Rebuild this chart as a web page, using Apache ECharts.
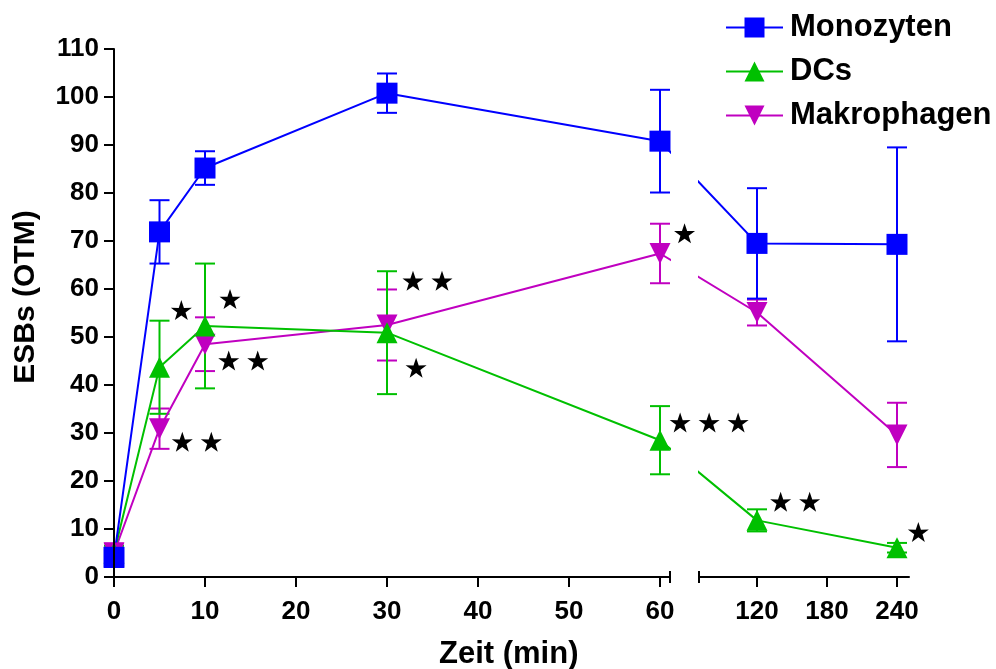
<!DOCTYPE html>
<html>
<head>
<meta charset="utf-8">
<title>ESBs</title>
<script src="https://cdn.jsdelivr.net/npm/echarts@6/dist/echarts.min.js"></script>
<style>
  html, body { margin: 0; padding: 0; background: #fff; }
  #chart { width: 996px; height: 669px; }
</style>
</head>
<body>
<div id="chart"></div>
<script>
// time points (min) and mean +/- error per cell type
const times = [0, 5, 10, 30, 60, 120, 240];
const monoMean = [4.1, 71.9, 85.2, 100.8, 90.8, 69.5, 69.3];
const monoErr = [2, 6.6, 3.5, 4.1, 10.7, 11.5, 20.2];
const dcMean = [5, 43.7, 52.3, 50.9, 28.5, 11.8, 6.1];
const dcErr = [1.5, 9.7, 13, 12.8, 7.1, 2.3, 1];
const macroMean = [5, 30.9, 48.5, 52.5, 67.4, 55.1, 29.6];
const macroErr = [2, 4.2, 5.6, 7.4, 6.2, 2.7, 6.7];

// broken x axis: two segments
const leftTicks = [0, 10, 20, 30, 40, 50, 60];
const rightTicks = [120, 180, 240];

// significance marks [time, value, number of stars]
const starsLeft = [
  [7.4, 55.6, 1],
  [12.75, 57.9, 1],
  [14.2, 45.1, 2],
  [9.1, 28.2, 2],
  [34.45, 61.7, 2],
  [33.2, 43.6, 1],
  [62.7, 71.6, 1],
  [65.4, 32.2, 3]
];
const starsRight = [
  [152.7, 15.7, 2],
  [258.3, 9.4, 1]
];

const FONT = 'Liberation Sans';
const STAR = 'path://M50,0L61.8,35.1L97.6,34.5L68.8,55.9L79.4,90.5L50,69.5L20.6,90.5L31.2,55.9L2.4,34.5L38.2,35.1Z';
const groups = [
  { name: 'Makrophagen', mean: macroMean, err: macroErr, color: '#c000c0', symbol: 'triangle', rotate: 180 },
  { name: 'DCs', mean: dcMean, err: dcErr, color: '#00c000', symbol: 'triangle', rotate: 0 },
  { name: 'Monozyten', mean: monoMean, err: monoErr, color: '#0000ff', symbol: 'rect', rotate: 0 }
];

const chart = echarts.init(document.getElementById('chart'));

function errorBars(axisIndex, color, rows) {
  return {
    type: 'custom',
    xAxisIndex: axisIndex,
    yAxisIndex: axisIndex,
    silent: true,
    clip: false,
    data: rows,
    encode: { x: 0, y: [1, 2] },
    renderItem: (params, api) => {
      const x = api.value(0);
      const lo = api.coord([x, api.value(1)]);
      const hi = api.coord([x, api.value(2)]);
      const w = 10;
      const style = { stroke: color, lineWidth: 2 };
      return {
        type: 'group',
        children: [
          { type: 'line', shape: { x1: lo[0], y1: lo[1], x2: hi[0], y2: hi[1] }, style },
          { type: 'line', shape: { x1: lo[0] - w, y1: lo[1], x2: lo[0] + w, y2: lo[1] }, style },
          { type: 'line', shape: { x1: hi[0] - w, y1: hi[1], x2: hi[0] + w, y2: hi[1] }, style }
        ]
      };
    }
  };
}

function lineSeries(axisIndex, g, data) {
  return {
    type: 'line',
    name: g.name,
    xAxisIndex: axisIndex,
    yAxisIndex: axisIndex,
    data,
    symbol: g.symbol,
    symbolSize: 21,
    symbolRotate: g.rotate,
    lineStyle: { color: g.color, width: 2 },
    itemStyle: { color: g.color },
    clip: true
  };
}

// row of n black stars centred on the given point
function starSeries(axisIndex, rows) {
  return {
    type: 'custom',
    xAxisIndex: axisIndex,
    yAxisIndex: axisIndex,
    silent: true,
    clip: false,
    data: rows,
    encode: { x: 0, y: 1 },
    renderItem: (params, api) => {
      const c = api.coord([api.value(0), api.value(1)]);
      const n = api.value(2);
      const step = 29, w = 21, h = 20;
      const children = [];
      for (let k = 0; k < n; k++) {
        const cx = c[0] + (k - (n - 1) / 2) * step;
        children.push({
          type: 'path',
          shape: { pathData: STAR.slice(7), x: cx - w / 2, y: c[1] - h / 2, width: w, height: h, layout: 'cover' },
          style: { fill: '#000' }
        });
      }
      return { type: 'group', children };
    }
  };
}

// bridge = where the other segment's neighbour point sits on this axis
function buildSeries(bridge) {
  const series = [];
  groups.forEach(g => {
    const left = [], right = [], errL = [], errR = [];
    times.forEach((t, i) => {
      const row = [t, g.mean[i] - g.err[i], g.mean[i] + g.err[i]];
      if (t <= 60) { left.push([t, g.mean[i]]); errL.push(row); }
      else { right.push([t, g.mean[i]]); errR.push(row); }
    });
    if (bridge) {
      left.push([bridge.left, g.mean[times.indexOf(120)]]);
      right.unshift([bridge.right, g.mean[times.indexOf(60)]]);
    }
    series.push(errorBars(0, g.color, errL));
    series.push(errorBars(1, g.color, errR));
    series.push(lineSeries(0, g, left));
    series.push(lineSeries(1, g, right));
  });
  series.push(starSeries(0, starsLeft));
  series.push(starSeries(1, starsRight));
  return series;
}

const axisLabelStyle = { color: '#000', fontSize: 26, fontWeight: 'bold', fontFamily: FONT };
const blackLine = { color: '#000', width: 2 };

const option = {
  animation: false,
  backgroundColor: '#fff',
  title: {
    text: 'Zeit (min)',
    left: 439,
    top: 639,
    padding: 0,
    textStyle: { color: '#000', fontSize: 31, fontWeight: 'bold', fontFamily: FONT }
  },
  legend: {
    data: ['Monozyten', 'DCs', 'Makrophagen'],
    orient: 'vertical',
    left: 720,
    top: 7,
    itemWidth: 57,
    itemHeight: 25,
    itemGap: 13,
    textStyle: { color: '#000', fontSize: 31, fontWeight: 'bold', fontFamily: FONT, padding: [0, 0, 0, 2] }
  },
  grid: [
    { left: 114, top: 49, width: 556, height: 528 },
    { left: 699, top: 49, width: 210, height: 528 }
  ],
  xAxis: [
    {
      type: 'value', gridIndex: 0, min: 0, max: 61.1,
      splitLine: { show: false },
      axisLine: { lineStyle: blackLine, symbol: ['none', 'rect'], symbolSize: [12, 2] },
      axisTick: { show: true, length: 10, lineStyle: blackLine, customValues: leftTicks },
      axisLabel: { ...axisLabelStyle, margin: 22, customValues: leftTicks }
    },
    {
      type: 'value', gridIndex: 1, min: 70.29, max: 250.29,
      splitLine: { show: false },
      axisLine: { lineStyle: blackLine, symbol: ['rect', 'none'], symbolSize: [12, 2] },
      axisTick: { show: true, length: 10, lineStyle: blackLine, customValues: rightTicks },
      axisLabel: { ...axisLabelStyle, margin: 22, customValues: rightTicks }
    }
  ],
  yAxis: [
    {
      type: 'value', gridIndex: 0, min: 0, max: 110, interval: 10,
      z: 5,
      name: 'ESBs (OTM)',
      nameLocation: 'middle',
      nameGap: 73,
      nameTextStyle: { color: '#000', fontSize: 30, fontWeight: 'bold', fontFamily: FONT, padding: [0, 0, 0, 32] },
      splitLine: { show: false },
      axisLine: { show: true, lineStyle: blackLine },
      axisTick: { show: true, length: 10, lineStyle: blackLine },
      axisLabel: { ...axisLabelStyle, margin: 15 }
    },
    { type: 'value', gridIndex: 1, min: 0, max: 110, show: false }
  ],
  series: buildSeries(null)
};

chart.setOption(option);

const bridge = {
  left: chart.convertFromPixel({ xAxisIndex: 0 }, chart.convertToPixel({ xAxisIndex: 1 }, 120)),
  right: chart.convertFromPixel({ xAxisIndex: 1 }, chart.convertToPixel({ xAxisIndex: 0 }, 60))
};
chart.setOption({ series: buildSeries(bridge) });

window.addEventListener('resize', () => chart.resize());
</script>
</body>
</html>
